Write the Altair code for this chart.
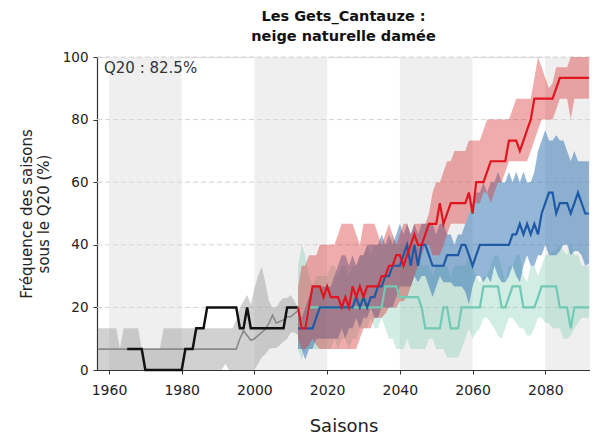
import altair as alt
import pandas as pd

# ---------------- data ----------------
hist_years = list(range(1957, 2013))
hist_high = [13.3, 13.3, 13.3, 13.3, 13.3, 13.3, 6.67, 13.3, 13.3, 13.3,
             13.3, 13.3, 6.67, 6.67, 6.67, 6.67, 6.67, 6.67, 13.3, 13.3,
             13.3, 13.3, 13.3, 13.3, 13.3, 13.3, 13.3, 13.3, 13.3, 13.3,
             13.3, 13.3, 13.3, 13.3, 13.3, 13.3, 13.3, 13.3, 16, 20,
             22, 24, 21, 26, 30, 33, 28, 22, 20, 20,
             22, 23, 23, 24, 22, 20]
hist_low = [0, 0, 0, 0, 0, 0, 0, 0, 0, 0,
            0, 0, 0, 0, 0, 0, 0, 0, 0, 0,
            0, 0, 0, 0, 0, 0, 0, 0, 0, 0,
            0, 0, 0, 0, 0, 2, 0, 0, 0, 0,
            0, 0, 0, 0, 2, 4, 5, 6.67, 7, 7,
            8, 9, 10, 12, 12, 11]
hist_median = [6.67, 6.67, 6.67, 6.67, 6.67, 6.67, 6.67, 6.67, 6.67, 6.67,
               6.67, 6.67, 6.67, 6.67, 6.67, 6.67, 6.67, 6.67, 6.67, 6.67,
               6.67, 6.67, 6.67, 6.67, 6.67, 6.67, 6.67, 6.67, 6.67, 6.67,
               6.67, 6.67, 6.67, 6.67, 6.67, 6.67, 6.67, 6.67,
               6.67, 10, 12.5, 11, 9.5, 10, 11, 12, 13, 15,
               17.5, 15, 15.5, 16, 17, 17, 18, 19]

obs_years = list(range(1965, 2013))
obs_values = [6.67, 6.67, 6.67, 6.67, 6.67, 0, 0, 0, 0, 0,
              0, 0, 0, 0, 0, 0, 6.67, 6.67, 6.67, 13.3,
              13.3, 13.3, 20, 20, 20, 20, 20, 20, 20, 20,
              20, 13.3, 13.3, 20, 13.3, 13.3, 13.3, 13.3, 13.3, 13.3,
              13.3, 13.3, 13.3, 13.3, 20, 20, 20, 20]

fut_years = list(range(2012, 2093))
red_mid = [20, 13.3, 13.3, 20, 26.7, 26.7, 26.7, 23.3, 26.7, 23.3,
           23.3, 23.3, 20, 23.3, 20, 26.7, 23.3, 26.7, 23.3, 26.7,
           26.7, 26.7, 26.7, 30, 30, 33.3, 33.3, 36.7, 36.7, 33.3,
           36.7, 40, 43.3, 40, 40, 43.3, 46.7, 46.7, 46.7, 53.3,
           46.7, 50, 53.3, 53.3, 53.3, 53.3, 53.3, 56.7, 50, 60,
           60, 60, 63.3, 66.7, 66.7, 66.7, 66.7, 66.7, 73.3, 73.3,
           73.3, 70, 73.3, 76.7, 80, 86.7, 86.7, 86.7, 86.7, 86.7,
           86.7, 90, 93.3, 93.3, 93.3, 93.3, 93.3, 93.3, 93.3, 93.3,
           93.3]
red_high = [26.7, 33.3, 33.3, 36.7, 36.7, 36.7, 40, 40, 40, 40,
            40, 43.3, 46.7, 46.7, 46.7, 46.7, 43.3, 40, 46.7, 46.7,
            46.7, 46.7, 43.3, 40, 43.3, 46.7, 43.3, 40, 43.3, 46.7,
            46.7, 43.3, 46.7, 46.7, 46.7, 46.7, 50, 56.7, 60, 60,
            63.3, 66.7, 66.7, 70, 70, 70, 70, 73.3, 73.3, 73.3,
            73.3, 76.7, 80, 80, 80, 80, 80, 80, 80, 83.3,
            86.7, 86.7, 86.7, 86.7, 86.7, 93.3, 100, 96.7, 93.3, 90,
            91.7, 96.7, 96.7, 96.7, 96.7, 100, 100, 100, 100, 100,
            100]
red_low = [10, 6.67, 6.67, 8, 10, 8, 6.67, 6.67, 6.67, 6.67,
           6.67, 6.67, 6.67, 6.67, 6.67, 6.67, 6.67, 10, 13.3, 13.3,
           13.3, 16.7, 16.7, 16.7, 18, 20, 20, 20, 22, 22,
           23.3, 26.7, 30, 33.3, 36.7, 40, 40, 36.7, 36.7, 36.7,
           40, 43.3, 46.7, 46.7, 46.7, 46.7, 46.7, 50, 53.3, 53.3,
           53.3, 56.7, 56.7, 53.3, 56.7, 60, 60, 63.3, 66.7, 66.7,
           66.7, 66.7, 66.7, 66.7, 70, 73.3, 76.7, 80, 80, 80,
           80, 83.3, 86.7, 86.7, 86.7, 80, 86.7, 86.7, 86.7, 86.7,
           86.7]

blue_mid = [13.3, 13.3, 13.3, 13.3, 13.3, 16.7, 20, 20, 20, 20,
            20, 20, 20, 20, 20, 20, 23.3, 20, 23.3, 20,
            23.3, 23.3, 26.7, 26.7, 30, 30, 33.3, 33.3, 33.3, 36.7,
            40, 33.3, 40, 33.3, 40, 40, 36.7, 33.3, 33.3, 33.3,
            33.3, 36.7, 36.7, 36.7, 36.7, 40, 40, 36.7, 33.3, 36.7,
            40, 40, 40, 40, 40, 40, 40, 40, 40, 43.3,
            43.3, 46.7, 43.3, 46.7, 43.3, 46.7, 43.3, 50, 53.3, 56.7,
            56.7, 50, 53.3, 53.3, 53.3, 50, 53.3, 56.7, 53.3, 50,
            50]
blue_high = [20, 16.7, 20, 23.3, 26.7, 26.7, 26.7, 26.7, 26.7, 26.7,
             30, 33.3, 36.7, 36.7, 33.3, 36.7, 33.3, 36.7, 36.7, 40,
             40, 40, 40, 43.3, 40, 43.3, 40, 43.3, 46.7, 43.3,
             46.7, 43.3, 46.7, 43.3, 46.7, 46.7, 46.7, 46.7, 43.3, 46.7,
             46.7, 43.3, 43.3, 40, 43.3, 43.3, 46.7, 50, 53.3, 56.7,
             56.7, 60, 56.7, 60, 60, 63.3, 60, 60, 63.3, 60,
             63.3, 60, 63.3, 60, 60, 63.3, 70, 73.3, 76.7, 73.3,
             73.3, 75, 73.3, 73.3, 70, 66.7, 70, 66.7, 66.7, 66.7,
             66.7]
blue_low = [6.67, 6.67, 3.3, 6.67, 6.67, 10, 10, 10, 10, 10,
            10, 10, 13.3, 10, 13.3, 13.3, 16.7, 13.3, 16.7, 16.7,
            20, 16.7, 16.7, 20, 20, 20, 20, 23.3, 26.7, 26.7,
            26.7, 26.7, 30, 28, 30, 30, 26.7, 23.3, 26.7, 30,
            28, 28, 28, 26.7, 26.7, 26.7, 25, 21, 26.7, 30,
            30, 28, 30, 28, 33.3, 30, 28, 28, 30, 33.3,
            30, 28, 33.3, 36.7, 33.3, 33.3, 36.7, 36.7, 40, 36.7,
            36.7, 36.7, 38, 40, 40, 36.7, 38, 38, 36.7, 33.3,
            34]

teal_mid = [20, 13.3, 13.3, 20, 20, 20, 20, 20, 20, 20,
            20, 20, 20, 20, 20, 20, 20, 20, 20, 20,
            20, 20, 20, 20, 26.7, 26.7, 26.7, 26.7, 23.3, 23.3,
            23.3, 23.3, 23.3, 23.3, 20, 13.3, 13.3, 13.3, 13.3, 13.3,
            20, 20, 13.3, 13.3, 13.3, 20, 20, 20, 20, 20,
            20, 26.7, 26.7, 26.7, 26.7, 26.7, 20, 20, 23.3, 26.7,
            26.7, 26.7, 20, 20, 20, 20, 23.3, 26.7, 26.7, 26.7,
            26.7, 26.7, 20, 20, 20, 13.3, 20, 20, 20, 20,
            20]
teal_high = [33.3, 40, 36.7, 30, 26.7, 30, 30, 30, 30, 33.3,
             33.3, 30, 33.3, 33.3, 30, 33.3, 33.3, 36.7, 36.7, 40,
             36.7, 40, 40, 40, 40, 40, 43.3, 40, 40, 40,
             40, 40, 36.7, 36.7, 33.3, 33.3, 33.3, 30, 33.3, 33.3,
             33.3, 33.3, 30, 33.3, 33.3, 33.3, 33.3, 36.7, 33.3, 30,
             28, 30, 30, 33.3, 36.7, 36.7, 33.3, 28, 33.3, 33.3,
             36.7, 36.7, 30, 28, 33.3, 33.3, 30, 33.3, 36.7, 36.7,
             38, 38, 40, 38, 36.7, 40, 36.7, 36.7, 33.3, 33.3,
             33.3]
teal_low = [6.67, 3.3, 6.67, 6.67, 6.67, 6.67, 6.67, 6.67, 6.67, 6.67,
            10, 6.67, 10, 10, 6.67, 10, 10, 13.3, 13.3, 13.3,
            16.7, 13.3, 13.3, 16.7, 13.3, 10, 10, 6.67, 6.67, 6.67,
            10, 6.67, 6.67, 6.67, 6.67, 6.67, 10, 10, 6.67, 6.67,
            6.67, 4, 4, 4, 4, 6.67, 10, 13.3, 10, 12,
            13.3, 16.7, 16.7, 15, 13.3, 11, 10, 13.3, 16.7, 16.7,
            15, 13.3, 13.3, 11, 11, 13.3, 16.7, 16.7, 15, 15,
            13.3, 13.3, 13.3, 10, 10, 11, 13.3, 15, 16.7, 16.7,
            16.7]

decade_start = [1960, 2000, 2040, 2080]
decade_end = [1980, 2020, 2060, 2100]
grid_values = [20, 40, 60, 80, 100]
x_ticks = [1960, 1980, 2000, 2020, 2040, 2060, 2080]
y_ticks = [0, 20, 40, 60, 80, 100]
annotation = ["Q20 : 82.5%"]
title_lines = ["Les Gets_Cantauze :", "neige naturelle damée"]
y_title = ["Fréquence des saisons", "sous le Q20 (%)"]
x_title = "Saisons"

for arr in (hist_high, hist_low, hist_median):
    assert len(arr) == len(hist_years)
assert len(obs_values) == len(obs_years)
for arr in (red_mid, red_high, red_low, blue_mid, blue_high, blue_low,
            teal_mid, teal_high, teal_low):
    assert len(arr) == len(fut_years), len(arr)

# ---------------- frames ----------------
hist_df = pd.DataFrame({"year": hist_years, "low": hist_low,
                        "high": hist_high, "mid": hist_median})
obs_df = pd.DataFrame({"year": obs_years, "mid": obs_values})
fut_df = pd.DataFrame({"year": fut_years,
                       "red_mid": red_mid, "red_low": red_low, "red_high": red_high,
                       "blue_mid": blue_mid, "blue_low": blue_low, "blue_high": blue_high,
                       "teal_mid": teal_mid, "teal_low": teal_low, "teal_high": teal_high})
bg_df = pd.DataFrame({"start": decade_start, "end": decade_end})
grid_df = pd.DataFrame({"v": grid_values})
ann_df = pd.DataFrame({"label": annotation})

FONT = "DejaVu Sans"
xscale = alt.Scale(domain=[1956.7, 2092.3], nice=False, zero=False)
yscale = alt.Scale(domain=[0, 100], nice=False)

xaxis = alt.Axis(values=x_ticks, format="d", grid=False, tickSize=4, tickWidth=1,
                 tickColor="#333333", domainColor="#333333", domainWidth=1.2,
                 labelFontSize=14, labelColor="#222222", labelPadding=9,
                 titleFontSize=18, titleFontWeight="normal", titleColor="#222222",
                 titlePadding=20, labelFont=FONT, titleFont=FONT)
yaxis = alt.Axis(values=y_ticks, grid=False, tickSize=4, tickWidth=1,
                 tickColor="#333333", domainColor="#333333", domainWidth=1.2,
                 labelFontSize=13.5, labelColor="#222222", labelPadding=5,
                 titleFontSize=15, titleFontWeight="normal", titleColor="#222222",
                 titlePadding=11, labelFont=FONT, titleFont=FONT)


def X(field):
    return alt.X(f"{field}:Q", scale=xscale, axis=xaxis, title=x_title)


def Y(field):
    return alt.Y(f"{field}:Q", scale=yscale, axis=yaxis, title=y_title)


bg = alt.Chart(bg_df).mark_rect(color="#efefef", clip=True).encode(
    x=X("start"), x2="end", y=alt.value(0), y2=alt.value(313))

grid = alt.Chart(grid_df).mark_rule(color="#d4d4d4", strokeDash=[5, 3], strokeWidth=1).encode(
    y=Y("v"))

gray_band = alt.Chart(hist_df).mark_area(color="#9a9a9a", opacity=0.45).encode(
    x=X("year"), y=Y("low"), y2="high")
gray_line = alt.Chart(hist_df).mark_line(color="#8a8a8a", strokeWidth=1.6).encode(
    x=X("year"), y=Y("mid"))
obs_line = alt.Chart(obs_df).mark_line(color="#111111", strokeWidth=2.5).encode(
    x=X("year"), y=Y("mid"))


def band(prefix, color, opacity):
    return alt.Chart(fut_df).mark_area(color=color, opacity=opacity).encode(
        x=X("year"), y=Y(f"{prefix}_low"), y2=f"{prefix}_high")


def line(prefix, color):
    return alt.Chart(fut_df).mark_line(color=color, strokeWidth=2.2).encode(
        x=X("year"), y=Y(f"{prefix}_mid"))


ann = alt.Chart(ann_df).mark_text(align="left", baseline="middle", fontSize=15,
                                  font=FONT, color="#333333").encode(
    x=alt.value(7), y=alt.value(11), text="label:N")

chart = alt.layer(
    bg, grid, gray_band,
    band("teal", "#66c2a5", 0.3),
    band("blue", "#2c6fb0", 0.5),
    band("red", "#d93030", 0.4),
    gray_line, obs_line,
    line("teal", "#72c9b4"),
    line("blue", "#1f5aa6"),
    line("red", "#e0151f"),
    ann,
).properties(
    width=493, height=313,
    title=alt.TitleParams(title_lines, fontSize=14.5, fontWeight="bold", font=FONT,
                          anchor="middle", offset=6, color="#111111", lineHeight=20),
    padding={"left": 89, "top": 49, "right": 0, "bottom": 72},
    autosize=alt.AutoSizeParams(type="none"),
).configure_view(stroke=None).configure(background="white", font=FONT)

chart.save("out.html", embed_options={"renderer": "svg", "actions": False})
